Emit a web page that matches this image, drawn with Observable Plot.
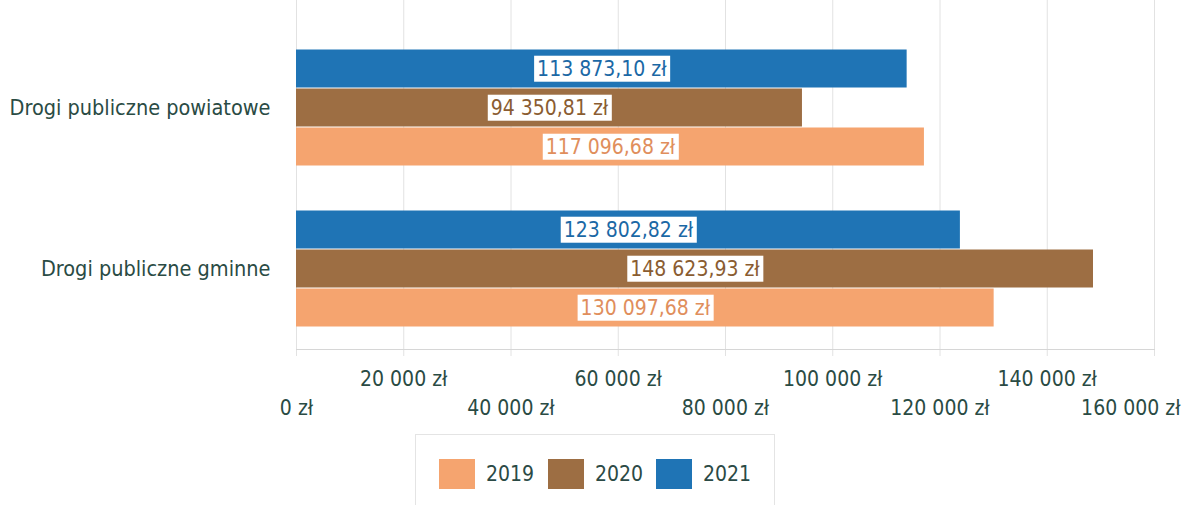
<!DOCTYPE html>
<html>
<head>
<meta charset="utf-8">
<script src="https://cdn.jsdelivr.net/npm/d3@7"></script>
<script src="https://cdn.jsdelivr.net/npm/@observablehq/plot@0.6"></script>
<style>
  body { margin: 0; background: #fff; font-family: "DejaVu Sans Condensed", "DejaVu Sans", sans-serif; }
  #wrap { position: relative; width: 1184px; height: 505px; }
  #legend { position: absolute; left: 415px; top: 434px; width: 360px; height: 75px;
    border: 1px solid #e4e4e4; box-sizing: border-box; font-size: 21px; color: #2b4a45; }
  #legend .item { position: absolute; top: 24px; display: flex; align-items: center; gap: 11px; height: 30px; }
  #legend .sw { width: 36px; height: 30px; display: inline-block; }
</style>
</head>
<body>
<div id="wrap"><div id="chart"></div><div id="legend"></div></div>
<script>
const categories = ["Drogi publiczne powiatowe", "Drogi publiczne gminne"];
const years = ["2019", "2020", "2021"];
const values2019 = [117096.68, 130097.68];
const values2020 = [94350.81, 148623.93];
const values2021 = [113873.10, 123802.82];
const xTicks = [0, 20000, 40000, 60000, 80000, 100000, 120000, 140000, 160000];
const barColors = ["#f5a46f", "#9d6e43", "#1f74b5"];
const labelColors = ["#e08e5c", "#8a5c31", "#1b68a5"];
const textColor = "#2a4b44";

const seriesValues = [values2019, values2020, values2021];
const data = [];
years.forEach((yr, j) => categories.forEach((c, i) => data.push({category: c, year: yr, value: seriesValues[j][i]})));

const locale = d3.formatLocale({decimal: ",", thousands: " ", grouping: [3], currency: ["", " zł"]});
const fmtValue = locale.format("$,.2f");
const fmtTick = locale.format("$,.0f");

const labelMarks = years.map((yr, j) => Plot.text(data.filter(d => d.year === yr), {
  fy: "category", y: "year", x: d => d.value / 2, text: d => fmtValue(d.value),
  fill: labelColors[j], fontSize: 21, className: "vlabel"
}));

const upper = xTicks.filter((d, i) => i % 2 === 1);
const lower = xTicks.filter((d, i) => i % 2 === 0 && i < xTicks.length - 1);
const last = [xTicks[xTicks.length - 1]];

const chart = Plot.plot({
  width: 1184, height: 432,
  marginLeft: 296, marginRight: 30, marginTop: 0, marginBottom: 83,
  style: {fontFamily: '"DejaVu Sans Condensed", "DejaVu Sans", sans-serif', background: "transparent"},
  x: {domain: [0, 160000], axis: null},
  y: {domain: ["2021", "2020", "2019"], paddingInner: 0, paddingOuter: 0.53, axis: null},
  fy: {domain: categories, range: [27, 349], padding: 0, label: null},
  color: {domain: years, range: barColors},
  marks: [
    Plot.ruleX(xTicks, {x: d => d, fy: () => categories[0], insetTop: -27, stroke: "#e2e2e2"}),
    Plot.ruleX(xTicks, {x: d => d, fy: () => categories[1], insetBottom: -7, stroke: "#e2e2e2"}),
    Plot.frame({anchor: "bottom", facetAnchor: "bottom", stroke: "#d6d6d6"}),
    Plot.barX(data, {fy: "category", y: "year", x: "value", fill: "year", insetTop: 0.5, insetBottom: 0.5}),
    ...labelMarks,
    Plot.axisFy({anchor: "left", tickSize: 0, tickPadding: 26, fontSize: 21.5, fill: textColor, label: null}),
    Plot.text(upper, {x: d => d, text: d => fmtTick(d), frameAnchor: "bottom", facetAnchor: "bottom", dy: 36, fontSize: 21, fill: textColor}),
    Plot.text(lower, {x: d => d, text: d => fmtTick(d), frameAnchor: "bottom", facetAnchor: "bottom", dy: 65, fontSize: 21, fill: textColor}),
    Plot.text(last, {x: d => d, text: d => fmtTick(d), frameAnchor: "bottom", facetAnchor: "bottom", dy: 65, fontSize: 21, fill: textColor, textAnchor: "end", dx: 26})
  ]
});
document.getElementById("chart").appendChild(chart);

// white boxes behind value labels
chart.querySelectorAll(".vlabel text").forEach(t => {
  const b = t.getBBox();
  const r = document.createElementNS("http://www.w3.org/2000/svg", "rect");
  r.setAttribute("x", b.x - 3);
  r.setAttribute("y", b.y - 1);
  r.setAttribute("width", b.width + 6);
  r.setAttribute("height", b.height + 2);
  r.setAttribute("fill", "#fff");
  r.setAttribute("stroke", "none");
  if (t.getAttribute("transform")) r.setAttribute("transform", t.getAttribute("transform"));
  t.parentNode.insertBefore(r, t);
});

const legend = document.getElementById("legend");
const legendLeft = [23, 132, 240];
years.forEach((yr, j) => {
  const it = document.createElement("div");
  it.className = "item";
  it.style.left = legendLeft[j] + "px";
  const sw = document.createElement("span");
  sw.className = "sw";
  sw.style.background = barColors[j];
  const lb = document.createElement("span");
  lb.textContent = yr;
  it.appendChild(sw); it.appendChild(lb);
  legend.appendChild(it);
});
</script>
</body>
</html>
